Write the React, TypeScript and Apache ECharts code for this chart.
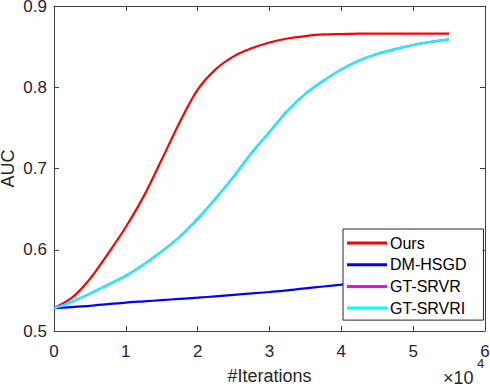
import React, { useEffect, useRef } from "react";
import * as echarts from "echarts";

const iterations = [
  0, 2500, 5000, 7500, 10000, 12500, 15000, 17500, 20000, 22500, 25000, 27500,
  30000, 32500, 35000, 37500, 40000, 42500, 45000, 47500, 50000, 52500, 55000,
];
const ours = [
  0.528, 0.541, 0.564, 0.595, 0.628, 0.666, 0.711, 0.757, 0.797, 0.822, 0.838,
  0.848, 0.855, 0.86, 0.863, 0.865, 0.8655, 0.866, 0.866, 0.866, 0.866, 0.866,
  0.866,
];
const dmHsgd = [
  0.528, 0.5295, 0.531, 0.533, 0.535, 0.5365, 0.538, 0.5395, 0.541, 0.5427,
  0.5445, 0.5462, 0.548, 0.55, 0.5525, 0.5548, 0.557, 0.5595, 0.562, 0.5645,
  0.567, 0.5695, 0.572,
];
const gtSrvr = [
  0.528, 0.536, 0.546, 0.557, 0.568, 0.582, 0.598, 0.616, 0.638, 0.663, 0.69,
  0.719, 0.745, 0.771, 0.792, 0.808, 0.822, 0.833, 0.841, 0.847, 0.852, 0.856,
  0.859,
];
const gtSrvri = [
  0.528, 0.536, 0.546, 0.557, 0.568, 0.582, 0.598, 0.616, 0.638, 0.663, 0.69,
  0.719, 0.745, 0.771, 0.792, 0.808, 0.822, 0.833, 0.841, 0.847, 0.852, 0.856,
  0.859,
];
const seriesNames = ["Ours", "DM-HSGD", "GT-SRVR", "GT-SRVRI"];
const seriesColors = ["#ff0000", "#0000ff", "#ff00ff", "#00ffff"];
const xTickScale = 10000;

const FONT = "'Liberation Sans', Arial, Helvetica, sans-serif";
const AXIS_COLOR = "#404040";

export default function App() {
  const ref = useRef<HTMLDivElement>(null);
  useEffect(() => {
    if (!ref.current) return;
    const chart = echarts.init(ref.current, null, { renderer: "svg" });
    const allData = [ours, dmHsgd, gtSrvr, gtSrvri];
    const tickStyle = { show: true, inside: true, length: 5, lineStyle: { color: AXIS_COLOR, width: 1 } };
    chart.setOption({
      animation: false,
      backgroundColor: "#ffffff",
      textStyle: { fontFamily: FONT },
      grid: { left: 54, top: 6, right: 5, bottom: 57, containLabel: false, outerBoundsMode: "none" },
      legend: {
        orient: "vertical",
        left: 343,
        top: 229,
        padding: [6, 17, 4, 4],
        itemGap: 5.7,
        itemWidth: 40,
        itemHeight: 3,
        icon: "rect",
        backgroundColor: "#ffffff",
        borderColor: "#262626",
        borderWidth: 1,
        borderRadius: 0,
        textStyle: { fontFamily: FONT, fontSize: 16, color: "#000000", padding: [0, 0, 0, -2] },
        data: seriesNames,
      },
      xAxis: [
        {
          type: "value",
          min: 0,
          max: 60000,
          interval: 10000,
          name: "#Iterations",
          nameLocation: "middle",
          nameGap: 36,
          nameMoveOverlap: false,
          nameTextStyle: { fontFamily: FONT, fontSize: 18, color: "#262626" },
          axisLine: { show: true, onZero: false, lineStyle: { color: AXIS_COLOR, width: 1 } },
          axisTick: tickStyle,
          axisLabel: {
            fontFamily: FONT,
            fontSize: 17,
            color: "#262626",
            margin: 12,
            formatter: (v: number) => String(v / xTickScale),
          },
          splitLine: { show: false },
        },
        {
          type: "value",
          position: "top",
          min: 0,
          max: 60000,
          interval: 10000,
          axisLine: { show: true, onZero: false, lineStyle: { color: AXIS_COLOR, width: 1 } },
          axisTick: tickStyle,
          axisLabel: { show: false },
          splitLine: { show: false },
        },
      ],
      yAxis: [
        {
          type: "value",
          min: 0.5,
          max: 0.9,
          interval: 0.1,
          name: "AUC",
          nameLocation: "middle",
          nameGap: 37,
          nameMoveOverlap: false,
          nameTextStyle: { fontFamily: FONT, fontSize: 18, color: "#262626" },
          axisLine: { show: true, onZero: false, lineStyle: { color: AXIS_COLOR, width: 1 } },
          axisTick: tickStyle,
          axisLabel: {
            fontFamily: FONT,
            fontSize: 17,
            color: "#262626",
            margin: 7,
            formatter: (v: number) => v.toFixed(1),
          },
          splitLine: { show: false },
        },
        {
          type: "value",
          position: "right",
          min: 0.5,
          max: 0.9,
          interval: 0.1,
          axisLine: { show: true, onZero: false, lineStyle: { color: AXIS_COLOR, width: 1 } },
          axisTick: tickStyle,
          axisLabel: { show: false },
          splitLine: { show: false },
        },
      ],
      graphic: [
        {
          type: "text",
          left: 443,
          top: 369,
          style: { text: "×10", fontFamily: FONT, fontSize: 18, fill: "#262626" },
        },
        {
          type: "text",
          left: 477,
          top: 357,
          style: { text: "4", fontFamily: FONT, fontSize: 13, fill: "#262626" },
        },
      ],
      series: seriesNames.map((name, i) => ({
        name,
        type: "line",
        xAxisIndex: 0,
        yAxisIndex: 0,
        data: iterations.map((x, k) => [x, allData[i][k]]),
        showSymbol: false,
        symbol: "none",
        smooth: 0.3,
        lineStyle: { color: seriesColors[i], width: 2.2 },
        itemStyle: { color: seriesColors[i] },
        z: 2 + i,
      })),
    });
    return () => chart.dispose();
  }, []);
  return (
    <div
      ref={ref}
      style={{ position: "fixed", left: 0, top: 0, width: 490, height: 388, background: "#fff" }}
    />
  );
}
